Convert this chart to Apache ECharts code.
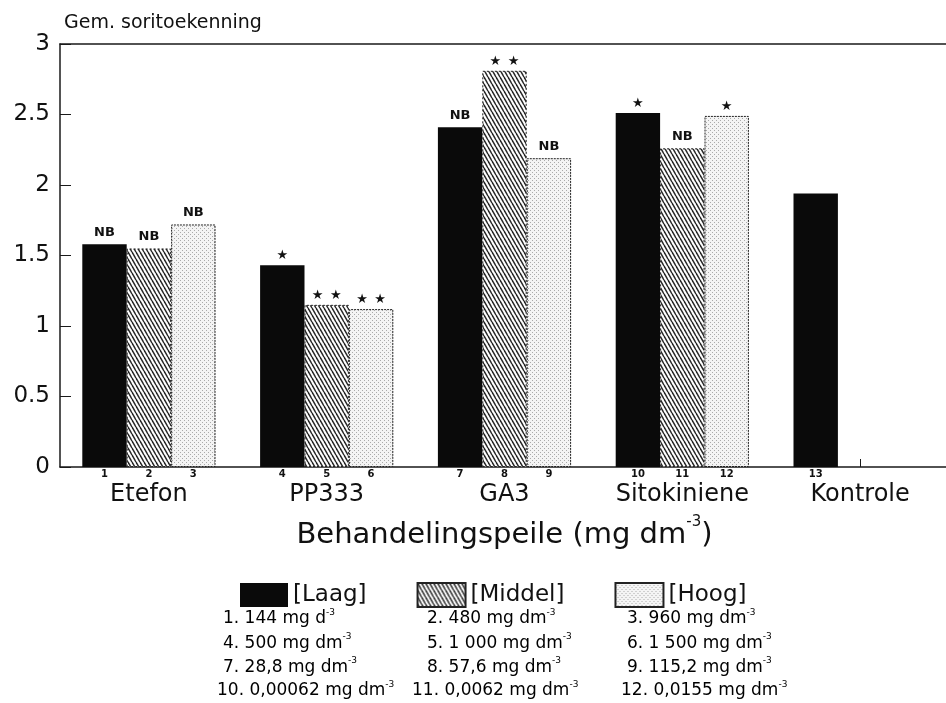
<!DOCTYPE html>
<html>
<head>
<meta charset="utf-8">
<title>Gem. soritoekenning</title>
<script src="https://cdn.jsdelivr.net/npm/echarts@6/dist/echarts.min.js"></script>
<style>
  html, body { margin: 0; padding: 0; background: #fff; }
  #chart { width: 946px; height: 703px; }
</style>
</head>
<body>
<div id="chart"></div>
<script>
// Treatment groups and the three concentration levels
const groups = ['Etefon', 'PP333', 'GA3', 'Sitokiniene', 'Kontrole'];
const levels = ['[Laag]', '[Middel]', '[Hoog]'];

// Mean sorting score per group and level
const laag   = [1.58, 1.43, 2.41, 2.51, 1.94];
const middel = [1.55, 1.15, 2.81, 2.26, null];
const hoog   = [1.72, 1.12, 2.19, 2.49, null];

// Significance marks above the bars (NB = nie betekenisvol)
const laagSig   = ['NB', '*',  'NB', '*',  ''];
const middelSig = ['NB', '**', '**', 'NB', ''];
const hoogSig   = ['NB', '**', 'NB', '*',  ''];

// Treatment numbers below the bars
const laagNr   = ['1', '4', '7', '10', '13'];
const middelNr = ['2', '5', '8', '11', ''];
const hoogNr   = ['3', '6', '9', '12', ''];

// Value axis ticks
const yTickLabels = ['0', '0.5', '1', '1.5', '2', '2.5', '3'];

// Dose key, one row per treatment: Laag, Middel, Hoog
const doseRows = [
  ['1. 144 mg d',        '2. 480 mg dm',      '3. 960 mg dm'],
  ['4. 500 mg dm',       '5. 1 000 mg dm',    '6. 1 500 mg dm'],
  ['7. 28,8 mg dm',      '8. 57,6 mg dm',     '9. 115,2 mg dm'],
  ['10. 0,00062 mg dm',  '11. 0,0062 mg dm',  '12. 0,0155 mg dm']
];

const FONT = 'DejaVu Sans';
const INK = '#111111';
const BAR_W = 44.4;

// Diagonal hatch fill for the middle level
function hatchTile() {
  const w = 4, h = 7;
  const c = document.createElement('canvas');
  c.width = w; c.height = h;
  const g = c.getContext('2d');
  g.fillStyle = '#ffffff';
  g.fillRect(0, 0, w, h);
  g.strokeStyle = '#262626';
  g.lineWidth = 1.5;
  for (const dx of [-w, 0, w]) {
    g.beginPath();
    g.moveTo(dx, 0);
    g.lineTo(dx + w, h);
    g.stroke();
  }
  return c;
}

// Fine stipple fill for the high level
function dotTile() {
  const c = document.createElement('canvas');
  c.width = 4; c.height = 4;
  const g = c.getContext('2d');
  g.fillStyle = '#f4f4f4';
  g.fillRect(0, 0, 4, 4);
  g.fillStyle = '#aaaaaa';
  g.fillRect(0, 0, 1, 1);
  g.fillRect(2, 2, 1, 1);
  return c;
}

const hatchFill = { image: hatchTile(), repeat: 'repeat' };
const dotFill = { image: dotTile(), repeat: 'repeat' };

const sigRich = {
  nb: { fontFamily: FONT, fontWeight: 'bold', fontSize: 13, lineHeight: 16, color: INK },
  st: { fontFamily: FONT, fontSize: 13, lineHeight: 11, color: INK }
};

function sigText(mark) {
  if (mark === 'NB') return '{nb|NB}';
  if (mark === '*') return '{st|★}';
  if (mark === '**') return '{st|★\u2002★}';
  return '';
}

function levelSeries(name, data, style, sig) {
  return {
    name: name,
    type: 'bar',
    xAxisIndex: 0,
    data: data,
    barWidth: BAR_W,
    barGap: '0%',
    itemStyle: style,
    label: {
      show: true,
      position: 'top',
      distance: 4,
      formatter: p => sigText(sig[p.dataIndex]),
      rich: sigRich
    },
    emphasis: { disabled: true },
    z: 2
  };
}

// Invisible twin bars on the top axis carry the treatment numbers under each bar
function numberSeries(data, nr) {
  return {
    name: 'nr',
    type: 'bar',
    xAxisIndex: 1,
    data: data,
    barWidth: BAR_W,
    barGap: '0%',
    silent: true,
    itemStyle: { color: 'rgba(0,0,0,0)' },
    label: {
      show: true,
      position: 'bottom',
      distance: 2,
      formatter: p => nr[p.dataIndex],
      fontFamily: FONT,
      fontWeight: 'bold',
      fontSize: 10,
      color: INK
    },
    emphasis: { disabled: true },
    z: 1
  };
}

// Dose key text blocks
const colX = [223, 427, 627];
const colXLong = [217, 412, 621];
const rowY = [619, 643.5, 667.5, 691];
const doseGraphics = [];
doseRows.forEach((row, r) => {
  row.forEach((txt, c) => {
    doseGraphics.push({
      type: 'text',
      x: (r === 3 ? colXLong : colX)[c],
      y: rowY[r],
      silent: true,
      style: {
        text: '{n|' + txt + '}{s|-3}',
        verticalAlign: 'middle',
        rich: {
          n: { fontFamily: FONT, fontSize: 17, lineHeight: 22, color: INK },
          s: { fontFamily: FONT, fontSize: 9, lineHeight: 10, verticalAlign: 'top', color: INK }
        }
      }
    });
  });
});

const chart = echarts.init(document.getElementById('chart'), null, { renderer: 'canvas' });

chart.setOption({
  backgroundColor: '#ffffff',
  animation: false,
  title: {
    text: 'Gem. soritoekenning',
    left: 59,
    top: 9,
    textStyle: { fontFamily: FONT, fontSize: 19, fontWeight: 'normal', color: INK }
  },
  grid: {
    left: 60,
    top: 44,
    width: 889,
    height: 423,
    containLabel: false,
    outerBoundsMode: 'none'
  },
  legend: {
    data: levels,
    left: 235,
    top: 577,
    icon: 'rect',
    itemWidth: 48,
    itemHeight: 24,
    itemGap: 50,
    selectedMode: false,
    textStyle: { fontFamily: FONT, fontSize: 23, color: INK }
  },
  xAxis: [
    {
      type: 'category',
      data: groups,
      position: 'bottom',
      axisLine: { show: true, lineStyle: { color: '#1a1a1a', width: 1.5 } },
      axisTick: { show: true, inside: true, alignWithLabel: true, length: 8, lineStyle: { color: '#1a1a1a', width: 1 } },
      axisLabel: { fontFamily: FONT, fontSize: 24, color: INK, margin: 16, interval: 0 },
      splitLine: { show: false },
      name: '{t|Behandelingspeile (mg dm}{s|-3}{t|)}',
      nameLocation: 'middle',
      nameGap: 48,
      nameTextStyle: {
        rich: {
          t: { fontFamily: FONT, fontSize: 29, lineHeight: 40, color: INK },
          s: { fontFamily: FONT, fontSize: 15, lineHeight: 14, verticalAlign: 'top', color: INK }
        }
      }
    },
    {
      type: 'category',
      data: groups,
      position: 'top',
      axisLine: { show: true, lineStyle: { color: '#1a1a1a', width: 1.5 } },
      axisTick: { show: false },
      axisLabel: { show: false },
      splitLine: { show: false }
    }
  ],
  yAxis: {
    type: 'value',
    min: 0,
    max: 3,
    interval: 0.5,
    axisLine: { show: true, lineStyle: { color: '#1a1a1a', width: 1.5 } },
    axisTick: { show: true, inside: true, length: 11, lineStyle: { color: '#1a1a1a', width: 1 } },
    axisLabel: {
      fontFamily: FONT,
      fontSize: 23,
      color: INK,
      margin: 10,
      formatter: v => yTickLabels[Math.round(v / 0.5)]
    },
    splitLine: { show: false }
  },
  series: [
    levelSeries(levels[0], laag, { color: '#0a0a0a' }, laagSig),
    levelSeries(levels[1], middel, { color: hatchFill, borderColor: '#222', borderWidth: 1, borderType: [2, 2] }, middelSig),
    levelSeries(levels[2], hoog, { color: dotFill, borderColor: '#222', borderWidth: 1, borderType: [2, 1] }, hoogSig),
    numberSeries(laag, laagNr),
    numberSeries(middel, middelNr),
    numberSeries(hoog, hoogNr)
  ],
  graphic: doseGraphics
});
</script>
</body>
</html>
